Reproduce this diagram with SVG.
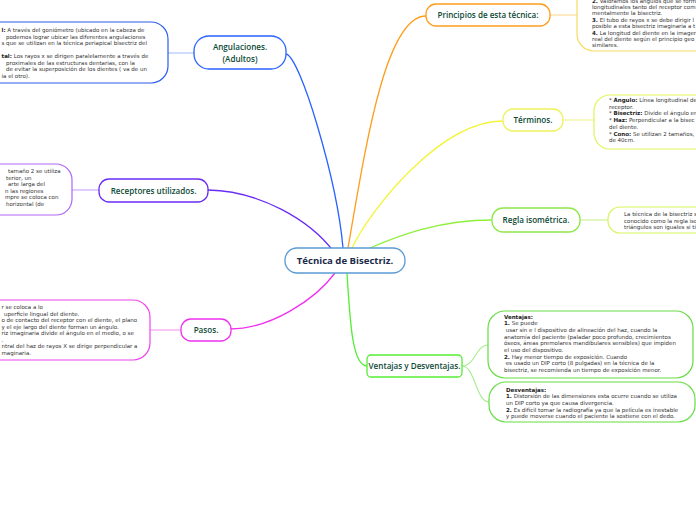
<svg xmlns="http://www.w3.org/2000/svg" width="696" height="520" viewBox="0 0 696 520">
<style>
.node{fill:#fff;stroke-width:1.3}
.box{fill:#fff;stroke-width:1.2}
.lbl{font-family:"Open Sans","Noto Sans",sans-serif;font-size:8.1px;font-weight:600;fill:#0d4a36;text-anchor:middle}
.ctr{font-family:"Open Sans","Noto Sans",sans-serif;font-size:9.6px;font-weight:700;fill:#1c2b4a;text-anchor:middle}
.t{font-family:"DejaVu Sans",Verdana,sans-serif;font-size:5.5px;fill:#333}
.b{font-weight:bold;fill:#222}
.c{fill:none;stroke-width:1.3}
.cl{fill:none;stroke-width:1.1}
</style>
<rect width="696" height="520" fill="#fff"/>
<g id="connectors">
<path class="c" stroke="#2962ff" d="M286,54 C300,56 337,180 343,248"/>
<path class="c" stroke="#ff9d1a" d="M348,248 C365,150 385,16 426,16"/>
<path class="c" stroke="#f4f43a" d="M352,248 C370,210 440,121 503,121"/>
<path class="c" stroke="#8ef03c" d="M370,248 C400,235 440,220 492,220"/>
<path class="c" stroke="#6a2cf5" d="M208,190 C260,191 310,220 334,252"/>
<path class="c" stroke="#f030ee" d="M335,273 C315,300 270,329 230,329"/>
<path class="c" stroke="#55ee33" d="M347,273 C350,320 352,366 367,366"/>
<path class="cl" stroke="#a9c0f8" d="M168,53 H194"/>
<path class="cl" stroke="#fbd890" d="M550,15 H577"/>
<path class="cl" stroke="#eef58a" d="M563,120 H594"/>
<path class="cl" stroke="#c6f08a" d="M580,220 H608"/>
<path class="cl" stroke="#c9a2f7" d="M72,190 H99"/>
<path class="cl" stroke="#f59af0" d="M150,330 H181"/>
<path class="cl" stroke="#a8ee8e" d="M462,366 C475,366 476,345 488,345"/>
<path class="cl" stroke="#a8ee8e" d="M462,366 C475,366 476,402 489,402"/>
</g>
<g id="center">
<rect class="node" x="285" y="248" width="120" height="25" rx="12" stroke="#5b9bd5"/>
<text class="ctr" x="345" y="264.3">Técnica de Bisectriz.</text>
</g>
<g id="angulaciones">
<rect class="node" x="194" y="36" width="92" height="33" rx="15" stroke="#2962ff"/>
<text class="lbl" x="240" y="50">Angulaciones.</text>
<text class="lbl" x="240" y="61.5">(Adultos)</text>
</g>
<g id="angulaciones-note">
<rect class="box" x="-20" y="22" width="188" height="61" rx="17" stroke="#2c5df0"/>
<text class="t" x="1.5" y="32"><tspan class="b">l:</tspan> A través del goniómetro (ubicado en la cabeza de</text>
<text class="t" x="6" y="38.7">podemos lograr ubicar las diferentes angulaciones</text>
<text class="t" x="1.5" y="45.4">s que se utilizan en la técnica periapical bisectriz del</text>
<text class="t" x="1.5" y="58"><tspan class="b">tal:</tspan> Los rayos x se dirigen paralelamente a través de</text>
<text class="t" x="6" y="64.7">proximales de las estructuras dentarias, con la</text>
<text class="t" x="6" y="71.4">de evitar la superposición de los dientes ( va de un</text>
<text class="t" x="1.5" y="78.1">ia el otro).</text>
</g>
<g id="principios">
<rect class="node" x="426" y="4" width="124" height="22" rx="10" stroke="#ff9d1a"/>
<text class="lbl" x="488" y="18">Principios de esta técnica:</text>
</g>
<g id="principios-note">
<rect class="box" x="577" y="-20" width="140" height="71" rx="17" stroke="#f7dc60"/>
<text class="t" x="592" y="2.5"><tspan class="b">2.</tspan> Valoramos los ángulos que se form</text>
<text class="t" x="592" y="8.9">longitudinales tanto del receptor com</text>
<text class="t" x="592" y="15.3">mentalmente la bisectriz.</text>
<text class="t" x="592" y="21.7"><tspan class="b">3.</tspan> El tubo de rayos x se debe dirigir l</text>
<text class="t" x="592" y="28.1">posible a esta bisectriz imaginaria a t</text>
<text class="t" x="592" y="34.5"><tspan class="b">4.</tspan> La longitud del diente en la imagen</text>
<text class="t" x="592" y="40.9">real del diente según el principio geo</text>
<text class="t" x="592" y="47.3">similares.</text>
</g>
<g id="terminos">
<rect class="node" x="503" y="109" width="60" height="22" rx="10" stroke="#eef25a"/>
<text class="lbl" x="533" y="123">Términos.</text>
</g>
<g id="terminos-note">
<rect class="box" x="594" y="95" width="120" height="54" rx="16" stroke="#e2f45a"/>
<text class="t" x="609" y="102">* <tspan class="b">Ángulo:</tspan> Línea longitudinal de</text>
<text class="t" x="609" y="108.7">receptor.</text>
<text class="t" x="609" y="115.4">* <tspan class="b">Bisectriz:</tspan> Divide el ángulo en</text>
<text class="t" x="609" y="122.1">* <tspan class="b">Haz:</tspan> Perpendicular a la bisec</text>
<text class="t" x="609" y="128.8">del diente.</text>
<text class="t" x="609" y="135.5">* <tspan class="b">Cono:</tspan> Se utilizan 2 tamaños,</text>
<text class="t" x="609" y="142.2">de 40cm.</text>
</g>
<g id="regla">
<rect class="node" x="492" y="208" width="88" height="24" rx="11" stroke="#8ee84a"/>
<text class="lbl" x="536" y="223">Regla isométrica.</text>
</g>
<g id="regla-note">
<rect class="box" x="608" y="207" width="110" height="26" rx="12" stroke="#d6f55a"/>
<text class="t" x="624" y="216">La técnica de la bisectriz s</text>
<text class="t" x="624" y="222.5">conocido como la regla iso</text>
<text class="t" x="624" y="229">triángulos son iguales si ti</text>
</g>
<g id="receptores">
<rect class="node" x="99" y="179" width="109" height="23" rx="10" stroke="#6a2cf5"/>
<text class="lbl" x="153.5" y="193.5">Receptores utilizados.</text>
</g>
<g id="receptores-note">
<rect class="box" x="-20" y="164" width="92" height="51" rx="16" stroke="#b066f5"/>
<text class="t" x="8" y="173">tamaño 2 se utiliza</text>
<text class="t" x="6" y="179.5">terior, un</text>
<text class="t" x="8" y="186">arte larga del</text>
<text class="t" x="5" y="192.5">n las regiones</text>
<text class="t" x="5" y="199">mpre se coloca con</text>
<text class="t" x="6" y="205.5">horizontal (de</text>
</g>
<g id="pasos">
<rect class="node" x="181" y="319" width="50" height="22" rx="10" stroke="#f030ee"/>
<text class="lbl" x="206" y="333">Pasos.</text>
</g>
<g id="pasos-note">
<rect class="box" x="-20" y="300" width="170" height="60" rx="17" stroke="#ee44ee"/>
<text class="t" x="1.5" y="309">r se coloca a lo</text>
<text class="t" x="4" y="315.5">uperficie lingual del diente.</text>
<text class="t" x="1.5" y="322">o de contacto del receptor con el diente, el plano</text>
<text class="t" x="1.5" y="328.5">y el eje largo del diente forman un ángulo.</text>
<text class="t" x="1.5" y="335">riz imaginaria divide el ángulo en el medio, o se</text>
<text class="t" x="1.5" y="341.5">.</text>
<text class="t" x="1.5" y="348">ntral del haz de rayos X se dirige perpendicular a</text>
<text class="t" x="1.5" y="354.5">maginaria.</text>
</g>
<g id="ventajas">
<rect class="node" x="367" y="355" width="95" height="22" rx="4" stroke="#55ee33"/>
<text class="lbl" x="414.5" y="369">Ventajas y Desventajas.</text>
</g>
<g id="ventajas-note">
<rect class="box" x="488" y="311" width="205" height="67" rx="17" stroke="#66dd44"/>
<text class="t b" x="504" y="318.5">Ventajas:</text>
<text class="t" x="504" y="325.2"><tspan class="b">1.</tspan> Se puede</text>
<text class="t" x="505.7" y="331.9">usar sin e l dispositivo de alineación del haz, cuando la</text>
<text class="t" x="504" y="338.6">anatomía del paciente (paladar poco profundo, crecimientos</text>
<text class="t" x="504" y="345.3">óseos, áreas premolares mandibulares sensibles) que impiden</text>
<text class="t" x="504" y="352">el uso del dispositivo.</text>
<text class="t" x="504" y="358.7"><tspan class="b">2.</tspan> Hay menor tiempo de exposición. Cuando</text>
<text class="t" x="505.7" y="365.4">es usado un DIP corto (8 pulgadas) en la técnica de la</text>
<text class="t" x="504" y="372.1">bisectriz, se recomienda un tiempo de exposición menor.</text>
</g>
<g id="desventajas-note">
<rect class="box" x="489" y="382" width="206" height="40" rx="17" stroke="#66dd44"/>
<text class="t b" x="506" y="391.5">Desventajas:</text>
<text class="t" x="506" y="398.2"><tspan class="b">1.</tspan> Distorsión de las dimensiones esta ocurre cuando se utiliza</text>
<text class="t" x="506" y="404.9">un DIP corto ya que causa divergencia.</text>
<text class="t" x="506" y="411.6"><tspan class="b">2.</tspan> Es difícil tomar la radiografía ya que la película es inestable</text>
<text class="t" x="506" y="418.3">y puede moverse cuando el paciente la sostiene con el dedo.</text>
</g>
</svg>
